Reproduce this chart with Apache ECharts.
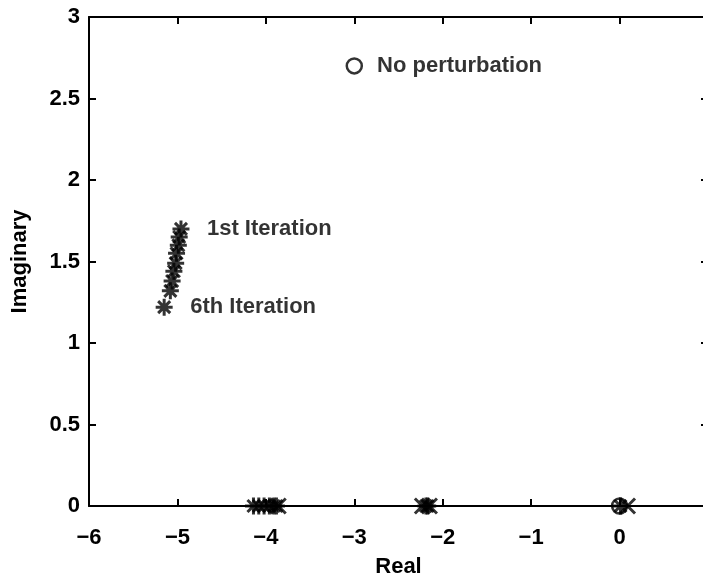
<!DOCTYPE html>
<html>
<head>
<meta charset="utf-8">
<script src="https://cdn.jsdelivr.net/npm/echarts@6/dist/echarts.min.js"></script>
<style>html,body{margin:0;padding:0;background:#fff}#c{width:703px;height:578px}</style>
</head>
<body>
<div id="c"></div>
<script>
// ---- data ----
const xTicks = [-6, -5, -4, -3, -2, -1, 0, 1];
const yTicks = [0, 0.5, 1, 1.5, 2, 2.5, 3];
// "o" : no perturbation
const circleX = [-3.0, 0.0];
const circleY = [2.70, 0.0];
const circleLabels = ['No perturbation', ''];
// "*" : iterations (complex branch)
const iterX = [-4.96, -4.98, -4.99, -5.01, -5.02, -5.04, -5.06, -5.08, -5.15];
const iterY = [1.70, 1.65, 1.60, 1.55, 1.49, 1.44, 1.38, 1.32, 1.22];
const iterLabels = ['1st Iteration', '', '', '', '', '', '', '', '6th Iteration'];
// "*" : iterations (real axis)
const realStarX = [-4.14, -4.08, -4.02, -3.96, -3.91, -3.88, -2.19, -2.17, 0.01];
const realStarY = [0, 0, 0, 0, 0, 0, 0, 0, 0];
// "x" : final
const crossX = [-3.86, -2.23, -2.15, 0.09];
const crossY = [0, 0, 0, 0];

const FONT = 'Liberation Sans';
const asteriskPath = 'path://M0,-10L0,10M-10,0L10,0M-7.07,-7.07L7.07,7.07M-7.07,7.07L7.07,-7.07';
const crossPath = 'path://M-10,-10L10,10M-10,10L10,-10';
const fmtNum = v => (v < 0 ? '\u2212' + Math.abs(v) : String(v));

const textStyle = {fontFamily: FONT, fontSize: 22, fontWeight: 'bold', color: '#000'};

function pts(xs, ys, labels, dist) {
  return xs.map((x, i) => {
    const item = {value: [x, ys[i]]};
    if (labels && labels[i]) {
      item.label = Object.assign({show: true, position: 'right', distance: dist, formatter: labels[i]}, textStyle);
    }
    return item;
  });
}

const chart = echarts.init(document.getElementById('c'));
chart.setOption({
  animation: false,
  backgroundColor: '#fff',
  grid: {left: 89, width: 619, top: 17, bottom: 72, containLabel: false, outerBoundsMode: 'none'},
  xAxis: [{
    type: 'value', min: xTicks[0], max: xTicks[xTicks.length - 1], interval: 1,
    name: 'Real', nameLocation: 'middle', nameGap: 50,
    nameTextStyle: Object.assign({}, textStyle),
    axisLine: {show: true, onZero: false, lineStyle: {color: '#000', width: 2}},
    axisTick: {show: true, inside: true, length: 7, lineStyle: {color: '#000', width: 2}},
    axisLabel: Object.assign({margin: 21, showMaxLabel: false, formatter: fmtNum}, textStyle),
    splitLine: {show: false}
  }, {
    type: 'value', position: 'top', min: xTicks[0], max: xTicks[xTicks.length - 1], interval: 1,
    axisLine: {show: true, onZero: false, lineStyle: {color: '#000', width: 2}},
    axisTick: {show: true, inside: true, length: 7, lineStyle: {color: '#000', width: 2}},
    axisLabel: {show: false}, splitLine: {show: false}
  }],
  yAxis: [{
    type: 'value', min: yTicks[0], max: yTicks[yTicks.length - 1], interval: 0.5,
    name: 'Imaginary', nameLocation: 'middle', nameGap: 58, nameRotate: 90,
    nameTextStyle: Object.assign({}, textStyle),
    axisLine: {show: true, onZero: false, lineStyle: {color: '#000', width: 2}},
    axisTick: {show: true, inside: true, length: 7, lineStyle: {color: '#000', width: 2}},
    axisLabel: Object.assign({margin: 9, formatter: fmtNum}, textStyle),
    splitLine: {show: false}
  }, {
    type: 'value', position: 'right', min: yTicks[0], max: yTicks[yTicks.length - 1], interval: 0.5,
    axisLine: {show: true, onZero: false, lineStyle: {color: '#000', width: 2}},
    axisTick: {show: true, inside: true, length: 7, lineStyle: {color: '#000', width: 2}},
    axisLabel: {show: false}, splitLine: {show: false}
  }],
  series: [{
    type: 'scatter', name: 'no perturbation', symbol: 'circle', symbolSize: 15,
    itemStyle: {color: 'rgba(0,0,0,0)', borderColor: '#000', borderWidth: 2.5},
    data: pts(circleX, circleY, circleLabels, 14), z: 3
  }, {
    type: 'scatter', name: 'iterations', symbol: asteriskPath, symbolSize: 17,
    itemStyle: {color: 'rgba(0,0,0,0)', borderColor: '#000', borderWidth: 3},
    data: pts(iterX, iterY, iterLabels, 16), z: 4
  }, {
    type: 'scatter', name: 'iterations real', symbol: asteriskPath, symbolSize: 17,
    itemStyle: {color: 'rgba(0,0,0,0)', borderColor: '#000', borderWidth: 3},
    data: pts(realStarX, realStarY, null, 0), z: 4
  }, {
    type: 'scatter', name: 'final', symbol: crossPath, symbolSize: 15,
    itemStyle: {color: 'rgba(0,0,0,0)', borderColor: '#000', borderWidth: 3},
    data: pts(crossX, crossY, null, 0), z: 4
  }]
});
</script>
</body>
</html>
